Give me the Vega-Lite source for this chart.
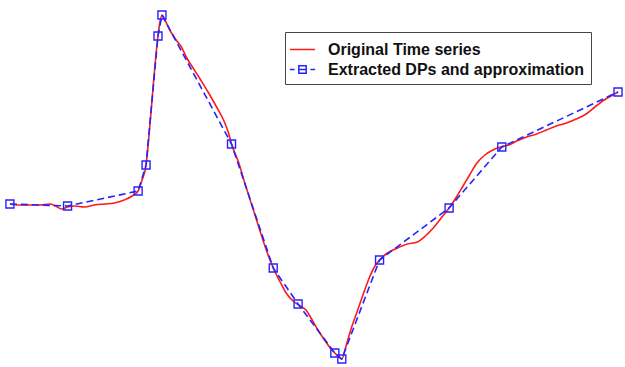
{
  "$schema": "https://vega.github.io/schema/vega-lite/v6.json",
  "autosize": {"type": "fit", "contains": "padding"},
  "width": 625,
  "height": 367,
  "padding": 0,
  "background": "white",
  "config": {"view": {"stroke": null}},
  "datasets": {
    "orig": [
      {"t":10,"v":163},{"t":20,"v":162},{"t":30,"v":162},{"t":40,"v":162},{"t":50,"v":163},{"t":56,"v":161},{"t":62,"v":158},{"t":68,"v":160},{"t":75,"v":161},{"t":85,"v":160},{"t":95,"v":162},{"t":105,"v":163},{"t":115,"v":164},{"t":125,"v":167},{"t":133,"v":171},{"t":139,"v":176},{"t":143,"v":187},{"t":147,"v":202},{"t":150,"v":232},{"t":153,"v":267},{"t":156,"v":302},{"t":159,"v":331},{"t":161,"v":345},{"t":163,"v":352},{"t":167,"v":345},{"t":172,"v":335},{"t":178,"v":326},{"t":182,"v":321},{"t":188,"v":309},{"t":195,"v":298},{"t":202,"v":287},{"t":210,"v":274},{"t":218,"v":260},{"t":225,"v":247},{"t":230,"v":234},{"t":233,"v":223},{"t":240,"v":205},{"t":247,"v":182},{"t":255,"v":157},{"t":262,"v":135},{"t":268,"v":117},{"t":275,"v":99},{"t":282,"v":85},{"t":288,"v":74},{"t":295,"v":66},{"t":302,"v":61},{"t":308,"v":57},{"t":313,"v":49},{"t":320,"v":37},{"t":328,"v":25},{"t":334,"v":17},{"t":337,"v":14},{"t":341,"v":10},{"t":344,"v":8},{"t":348,"v":20},{"t":353,"v":37},{"t":360,"v":57},{"t":366,"v":74},{"t":372,"v":90},{"t":378,"v":102},{"t":382,"v":107},{"t":390,"v":114},{"t":400,"v":119},{"t":410,"v":123},{"t":420,"v":125},{"t":428,"v":131},{"t":436,"v":139},{"t":444,"v":149},{"t":452,"v":159},{"t":460,"v":171},{"t":466,"v":181},{"t":472,"v":191},{"t":480,"v":204},{"t":488,"v":212},{"t":496,"v":217},{"t":504,"v":220},{"t":512,"v":222},{"t":520,"v":226},{"t":530,"v":230},{"t":540,"v":233},{"t":550,"v":237},{"t":560,"v":241},{"t":570,"v":244},{"t":580,"v":248},{"t":590,"v":253},{"t":600,"v":261},{"t":608,"v":267},{"t":615,"v":271},{"t":622,"v":275}
    ],
    "dps": [
      {"t":10,"v":163},{"t":68,"v":161},{"t":139,"v":176},{"t":147,"v":202},{"t":159,"v":331},{"t":163,"v":352},{"t":233,"v":223},{"t":275,"v":99},{"t":300,"v":63},{"t":337,"v":14},{"t":344,"v":8},{"t":382,"v":107},{"t":452,"v":159},{"t":505,"v":220},{"t":622,"v":275}
    ]
  },
  "encoding": {
    "x": {"field": "t", "type": "quantitative", "scale": {"domain": [0, 625], "nice": false, "zero": false}, "axis": null},
    "y": {"field": "v", "type": "quantitative", "scale": {"domain": [0, 367], "nice": false, "zero": false}, "axis": null},
    "color": {
      "field": "series", "type": "nominal",
      "scale": {"domain": ["Original Time series", "Extracted DPs and approximation"], "range": ["#ff1a1a", "#2424ff"]},
      "legend": {
        "title": null,
        "orient": "none",
        "legendX": 285,
        "legendY": 32,
        "padding": 6,
        "strokeColor": "#444",
        "fillColor": "white",
        "symbolSize": 441,
        "symbolStrokeWidth": 1.5,
        "labelFont": "Liberation Sans",
        "labelFontWeight": "bold",
        "labelFontSize": 16,
        "labelColor": "#111",
        "labelOffset": 14,
        "labelLimit": 0,
        "rowPadding": 0,
        "cornerRadius": 0,
        "encode": {
          "symbols": {
            "update": {
              "shape": {"signal": "datum.value === 'Original Time series' ? 'M-1.2,0H1.2' : 'M-1.2,0H-0.75M-0.35,-0.35H0.35V0.35H-0.35ZM-0.35,0H0.35M0.75,0H1.2'"},
              "fill": {"value": "transparent"},
              "strokeWidth": {"value": 1.5}
            }
          }
        }
      }
    }
  },
  "layer": [
    {
      "data": {"name": "orig"},
      "transform": [{"calculate": "'Original Time series'", "as": "series"}],
      "mark": {"type": "line", "strokeWidth": 1.6, "interpolate": "monotone"}
    },
    {
      "data": {"name": "dps"},
      "transform": [{"calculate": "'Extracted DPs and approximation'", "as": "series"}],
      "mark": {"type": "line", "strokeWidth": 1.6, "strokeDash": [7, 4]}
    },
    {
      "data": {"name": "dps"},
      "transform": [{"calculate": "'Extracted DPs and approximation'", "as": "series"}],
      "mark": {"type": "point", "shape": "square", "filled": false, "size": 64, "strokeWidth": 1.4, "opacity": 1}
    }
  ]
}
